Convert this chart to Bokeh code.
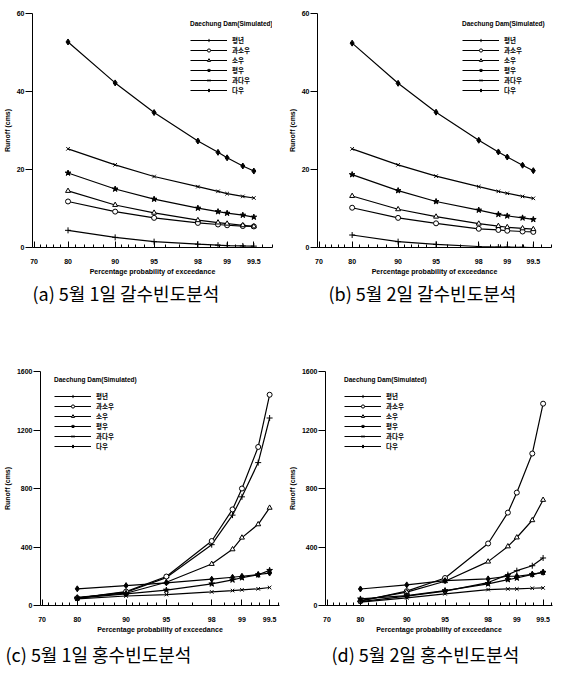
from statistics import NormalDist
from bokeh.plotting import figure
from bokeh.layouts import row, column
from bokeh.models import Range1d, FixedTicker, Title
from bokeh.embed import file_html
from bokeh.resources import INLINE

# ---------------- data ----------------
prob = [80, 90, 95, 98, 98.75, 99, 99.33, 99.5]
major_ticks = [70, 80, 90, 95, 98, 99, 99.5]
major_labels = ["70", "80", "90", "95", "98", "99", "99.5"]
minor_ticks = [72, 74, 76, 78, 82, 84, 86, 88, 91, 92, 93, 94, 96, 97, 98.5, 98.8, 99.2, 99.35, 99.6, 99.7]
series_names = ["평년", "과소우", "소우", "평우", "과다우", "다우"]

# (a) 5월 1일 갈수빈도분석
a_s1 = [4.4, 2.6, 1.5, 0.85, 0.6, 0.5, 0.4, 0.35]
a_s2 = [11.8, 9.2, 7.6, 6.3, 5.9, 5.7, 5.5, 5.4]
a_s3 = [14.5, 10.9, 8.9, 7.0, 6.4, 6.1, 5.7, 5.4]
a_s4 = [19.1, 15.0, 12.4, 10.1, 9.2, 8.8, 8.3, 7.8]
a_s5 = [25.3, 21.2, 18.2, 15.6, 14.4, 13.8, 13.1, 12.7]
a_s6 = [52.7, 42.2, 34.6, 27.3, 24.4, 23.0, 20.9, 19.6]

# (b) 5월 2일 갈수빈도분석
b_s1 = [3.2, 1.5, 0.8, 0.25, 0.1, 0.1, 0.05, 0.0]
b_s2 = [10.2, 7.6, 6.2, 4.8, 4.5, 4.3, 4.1, 4.0]
b_s3 = [13.2, 9.8, 7.9, 6.1, 5.5, 5.2, 4.9, 4.7]
b_s4 = [18.7, 14.6, 11.8, 9.6, 8.5, 8.1, 7.6, 7.2]
b_s5 = [25.3, 21.2, 18.3, 15.6, 14.4, 13.9, 13.1, 12.6]
b_s6 = [52.4, 42.1, 34.7, 27.5, 24.5, 23.2, 21.1, 19.7]

# (c) 5월 1일 홍수빈도분석
c_s1 = [50, 91, 191, 416, 618, 743, 977, 1282]
c_s2 = [50, 95, 198, 441, 657, 800, 1084, 1441]
c_s3 = [55, 84, 159, 284, 384, 464, 555, 668]
c_s4 = [50, 80, 105, 148, 175, 190, 210, 240]
c_s5 = [45, 65, 75, 93, 102, 107, 114, 123]
c_s6 = [114, 136, 155, 180, 193, 200, 212, 222]

# (d) 5월 2일 홍수빈도분석
d_s1 = [27, 64, 98, 157, 211, 238, 272, 325]
d_s2 = [30, 98, 188, 424, 635, 772, 1039, 1380]
d_s3 = [34, 91, 166, 300, 404, 465, 583, 722]
d_s4 = [45, 68, 102, 148, 177, 188, 213, 227]
d_s5 = [23, 52, 80, 109, 113, 113, 118, 120]
d_s6 = [113, 141, 170, 182, 200, 200, 213, 227]

# ---------------- helpers ----------------
ND = NormalDist()


def zq(p):
    return round(ND.inv_cdf(p / 100.0), 6)


xs = [zq(p) for p in prob]
maj_z = [zq(p) for p in major_ticks]
min_z = [zq(p) for p in minor_ticks]

marker_styles = [
    dict(marker="cross", size=6, fill_color="black"),
    dict(marker="circle", size=5, fill_color="white"),
    dict(marker="triangle", size=5, fill_color="white"),
    dict(marker="star", size=6, fill_color="black"),
    dict(marker="x", size=5, fill_color="black"),
    dict(marker="diamond", size=6, fill_color="black"),
]

AX_FONT = "Liberation Sans"
KR_FONT = "Noto Sans CJK KR"


def make_panel(width, height, mb, x1, ymax, yticks, data, leg_loc, caption, cap_off, cap_standoff):
    left, right, top, bottom = mb
    p = figure(width=width, height=height, output_backend="svg", toolbar_location=None,
               title=None,
               x_range=Range1d(0.51, x1), y_range=Range1d(0, ymax),
               min_border_left=left, min_border_right=right,
               min_border_top=top, min_border_bottom=bottom)
    p.outline_line_color = None
    p.xgrid.visible = False
    p.ygrid.visible = False
    p.background_fill_color = "white"

    xa = p.xaxis[0]
    xa.ticker = FixedTicker(ticks=maj_z, minor_ticks=min_z)
    xa.major_label_overrides = {z: lab for z, lab in zip(maj_z, major_labels)}
    xa.major_tick_in = 6
    xa.major_tick_out = 0
    xa.minor_tick_in = 3
    xa.minor_tick_out = 0
    xa.major_label_standoff = 11
    xa.axis_label = "Percentage probability of exceedance"
    xa.axis_label_standoff = 1
    xa.axis_label_text_font = AX_FONT
    xa.axis_label_text_font_size = "7px"
    xa.axis_label_text_font_style = "bold"
    xa.axis_label_text_color = "black"
    xa.major_label_text_font = AX_FONT
    xa.major_label_text_font_size = "7px"
    xa.major_label_text_font_style = "bold"
    xa.major_label_text_color = "black"
    xa.axis_line_color = "black"
    xa.major_tick_line_color = "black"
    xa.minor_tick_line_color = "black"

    ya = p.yaxis[0]
    ya.ticker = FixedTicker(ticks=yticks, minor_ticks=[])
    ya.major_tick_in = 0
    ya.major_tick_out = 7
    ya.minor_tick_line_color = None
    ya.major_label_standoff = 1
    ya.axis_label = "Runoff (cms)"
    ya.axis_label_standoff = 3
    ya.axis_label_text_font = AX_FONT
    ya.axis_label_text_font_size = "7px"
    ya.axis_label_text_font_style = "bold"
    ya.axis_label_text_color = "black"
    ya.major_label_text_font = AX_FONT
    ya.major_label_text_font_size = "7px"
    ya.major_label_text_font_style = "bold"
    ya.major_label_text_color = "black"
    ya.axis_line_color = "black"
    ya.major_tick_line_color = "black"

    for ys, name, st in zip(data, series_names, marker_styles):
        p.line(xs, ys, line_color="black", line_width=1.2, legend_label=name)
        p.scatter(xs, ys, marker=st["marker"], size=st["size"], line_color="black",
                  fill_color=st["fill_color"], line_width=1, legend_label=name)

    lg = p.legend[0]
    lg.location = leg_loc
    lg.title = "Daechung Dam(Simulated)"
    lg.title_text_font = AX_FONT
    lg.title_text_font_size = "6.5px"
    lg.title_text_font_style = "bold"
    lg.title_text_color = "black"
    lg.title_standoff = 8
    lg.label_text_font = KR_FONT
    lg.label_text_font_size = "6.5px"
    lg.label_text_font_style = "bold"
    lg.label_text_color = "black"
    lg.glyph_width = 37
    lg.glyph_height = 8
    lg.label_height = 8
    lg.label_standoff = 5
    lg.spacing = 0
    lg.padding = 2
    lg.margin = 0
    lg.border_line_color = None
    lg.background_fill_alpha = 0

    p.add_layout(Title(text=caption, align="left", offset=cap_off, standoff=cap_standoff,
                       text_font=KR_FONT, text_font_size="18px", text_font_style="normal",
                       text_color="black"), "below")
    return p


pa = make_panel(285, 322, (28, 13, 13, 75), 2.75, 60, [0, 20, 40, 60],
                [a_s1, a_s2, a_s3, a_s4, a_s5, a_s6], (158, 152),
                "(a) 5월 1일 갈수빈도분석", 0, 0)
pb = make_panel(270, 322, (30, 4, 13, 75), 2.75, 60, [0, 20, 40, 60],
                [b_s1, b_s2, b_s3, b_s4, b_s5, b_s6], (145, 152),
                "(b) 5월 2일 갈수빈도분석", 11, 0)
pc = make_panel(285, 349, (39, 6, 49, 66), 2.665, 1600, [0, 400, 800, 1200, 1600],
                [c_s1, c_s2, c_s3, c_s4, c_s5, c_s6], (14, 154),
                "(c) 5월 1일 홍수빈도분석", -35, 7)
pd_ = make_panel(270, 349, (37, 3, 49, 66), 2.665, 1600, [0, 400, 800, 1200, 1600],
                 [d_s1, d_s2, d_s3, d_s4, d_s5, d_s6], (19, 154),
                 "(d) 5월 2일 홍수빈도분석", 6, 7)

layout = column(row(pa, pb), row(pc, pd_))
open("out.html", "w").write(file_html(layout, INLINE))
